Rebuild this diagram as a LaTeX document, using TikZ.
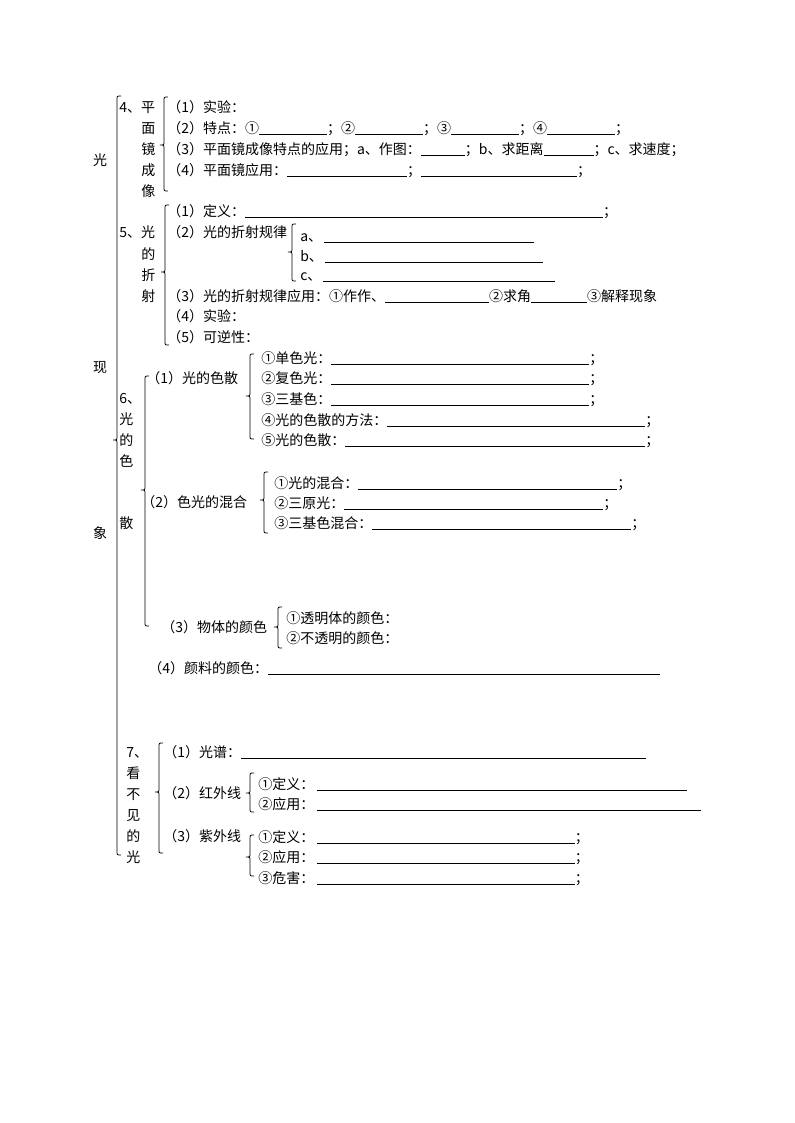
\documentclass[tikz,border=0pt]{standalone}
\usepackage{fontspec}
\newfontfamily\cjk{Noto Sans CJK SC}
\newcommand\tfnt{\cjk\fontsize{10.5}{12}\selectfont}
\newcommand\blnk[1]{\rule[-1.3pt]{\dimexpr0.75pt*#1\relax}{0.7pt}}
\newcommand\brc[4]{%
  \draw[bracel] (#1+4,#2) .. controls (#1,#2) .. (#1,#2+4) -- (#1,#3-4)
    .. controls (#1,#3) .. (#1-4,#3) .. controls (#1,#3) .. (#1,#3+4)
    -- (#1,#4-4) .. controls (#1,#4) .. (#1+4,#4);}
\tikzset{
  t/.style={anchor=west,inner sep=0pt,text height=0.88em,text depth=0.12em,font=\tfnt},
  tc/.style={t,anchor=center},
  bracel/.style={line width=0.6pt,black}
}
\begin{document}
\begin{tikzpicture}[x=0.75pt,y=-0.75pt]
\useasboundingbox (0,0) rectangle (794,1123);
\fill[white] (0,0) rectangle (794,1123);
% main labels
\node[tc] (guang) at (100,160) {光};
\node[tc] (xian) at (100,367) {现};
\node[tc] (xiang) at (100,533) {象};
\brc{117}{96}{440}{855}
% section 4
\node[t] (s4a) at (119,107) {4、平};
\node[t] (s4b) at (141,128) {面};
\node[t] (s4c) at (141,149) {镜};
\node[t] (s4d) at (141,170) {成};
\node[t] (s4e) at (141,191) {像};
\brc{164}{97}{145}{191}
\node[t] (s4r1) at (167,107) {（1）实验：};
\node[t] (s4r2) at (167,128) {（2）特点：①\blnk{68}；②\blnk{68}；③\blnk{68}；④\blnk{68}；};
\node[t] (s4r3) at (167,149) {（3）平面镜成像特点的应用；a、作图：\blnk{44}；b、求距离\blnk{50}；c、求速度；};
\node[t] (s4r4) at (167,170) {（4）平面镜应用：\blnk{120}；\blnk{156}；};
% section 5
\node[t] (s5a) at (119,232) {5、光};
\node[t] (s5b) at (141,254) {的};
\node[t] (s5c) at (141,275) {折};
\node[t] (s5d) at (141,296) {射};
\brc{165}{205}{272}{345}
\node[t] (s5r1) at (167,211) {（1）定义：\blnk{358}；};
\node[t] (s5r2) at (167,232) {（2）光的折射规律};
\brc{292}{224}{252}{281}
\node[t] (s5i1) at (300,236) {a、\hspace{1.5pt}\blnk{210}};
\node[t] (s5i2) at (300,256) {b、\hspace{1.5pt}\blnk{218}};
\node[t] (s5i3) at (300,275) {c、\hspace{1.5pt}\blnk{232}};
\node[t] (s5r3) at (167,296) {（3）光的折射规律应用：①作作、\blnk{104}②求角\blnk{56}③解释现象};
\node[t] (s5r4) at (167,316) {（4）实验：};
\node[t] (s5r5) at (167,337) {（5）可逆性：};
% section 6
\node[t] (s6a) at (119,398) {6、};
\node[t] (s6b) at (119,419) {光};
\node[t] (s6c) at (119,440) {的};
\node[t] (s6d) at (119,461) {色};
\node[t] (s6e) at (119,523) {散};
\brc{145}{376}{490}{626}
\node[t] (s6r1) at (146,378) {（1）光的色散};
\brc{250}{354}{396}{439}
\node[t] (s6i1) at (261,358) {①单色光：\blnk{258}；};
\node[t] (s6i2) at (261,378) {②复色光：\blnk{258}；};
\node[t] (s6i3) at (261,399) {③三基色：\blnk{258}；};
\node[t] (s6i4) at (261,420) {④光的色散的方法：\blnk{258}；};
\node[t] (s6i5) at (261,440) {⑤光的色散：\blnk{300}；};
\node[t] (s6r2) at (141,502) {（2）色光的混合};
\brc{264}{472}{500}{533}
\node[t] (s6j1) at (274,483) {①光的混合：\blnk{259}；};
\node[t] (s6j2) at (274,503) {②三原光：\blnk{259}；};
\node[t] (s6j3) at (274,523) {③三基色混合：\blnk{259}；};
\node[t] (s6r3) at (161,627) {（3）物体的颜色};
\brc{278}{607}{627}{648}
\node[t] (s6k1) at (286,618) {①透明体的颜色：};
\node[t] (s6k2) at (286,638) {②不透明的颜色：};
\node[t] (s6r4) at (148,668) {（4）颜料的颜色：\blnk{392}};
% section 7
\node[t] (s7a) at (126,752) {7、};
\node[t] (s7b) at (126,773) {看};
\node[t] (s7c) at (126,794) {不};
\node[t] (s7d) at (126,815) {见};
\node[t] (s7e) at (126,836) {的};
\node[t] (s7f) at (126,857) {光};
\brc{159}{743}{792}{853}
\node[t] (s7r1) at (163,752) {（1）光谱：\blnk{405}};
\node[t] (s7r2) at (163,793) {（2）红外线};
\brc{250}{773}{793}{812}
\node[t] (s7i1) at (258,784) {①定义：\hspace{2pt}\blnk{370}};
\node[t] (s7i2) at (258,804) {②应用：\hspace{2pt}\blnk{384}};
\node[t] (s7r3) at (163,836) {（3）紫外线};
\brc{250}{835}{857}{876}
\node[t] (s7j1) at (258,837) {①定义：\hspace{2pt}\blnk{258}；};
\node[t] (s7j2) at (258,857) {②应用：\hspace{2pt}\blnk{258}；};
\node[t] (s7j3) at (258,878) {③危害：\hspace{2pt}\blnk{258}；};
\end{tikzpicture}
\end{document}
